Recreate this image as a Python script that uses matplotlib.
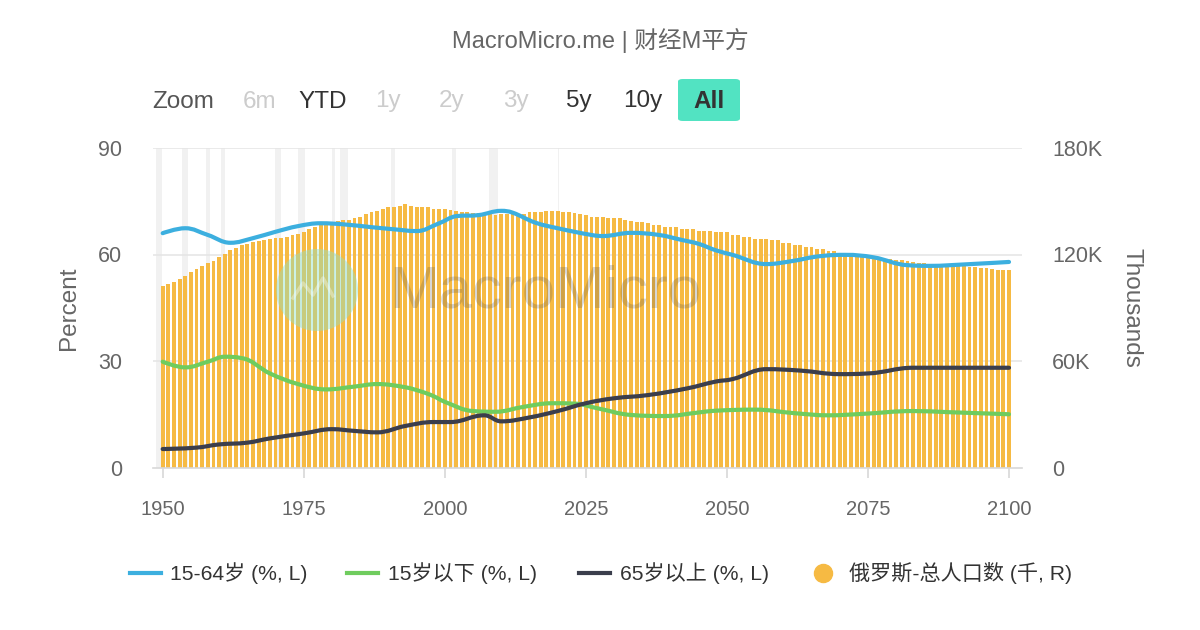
import matplotlib
matplotlib.use("Agg")
import matplotlib.pyplot as plt
from matplotlib.path import Path
from matplotlib.patches import PathPatch, Circle, FancyBboxPatch
from matplotlib.lines import Line2D
from matplotlib.ticker import FuncFormatter

plt.rcParams['font.family'] = ['Liberation Sans', 'Noto Sans CJK SC', 'DejaVu Sans']

# ---------------- data ----------------
pop_years = list(range(1950, 2101))
population = [  # thousands (right axis)
    102300, 103400, 104500, 106000, 107900, 110000, 112000, 113500, 115400, 116600,
    118800, 120300, 122500, 123500, 125200, 125900, 126900, 127800, 128200, 128700,
    129100, 129500, 130000, 131000, 131400, 132900, 134200, 135700, 136400, 137200,
    138100, 138700, 139400, 139600, 140400, 141300, 142800, 143800, 144700, 145800,
    146900, 147000, 147300, 148300, 147100, 147000, 146900, 146900, 145900, 145900,
    145800, 145000, 144700, 144100, 143700, 143600, 143500, 143200, 142600, 142300,
    142800, 142800, 142800, 142600, 142800, 143700, 143700, 143800, 144500, 144700,
    144700, 143700, 143700, 143600, 142800, 142300, 141300, 141300, 141200, 140400,
    140400, 140300, 139400, 139000, 138100, 138100, 137900, 136800, 136800, 135700,
    135700, 135600, 134500, 134500, 134100, 133400, 133400, 133300, 132500, 132500,
    132400, 131200, 131200, 130000, 130000, 128900, 128900, 128800, 128000, 127900,
    126700, 126600, 125500, 125500, 124400, 124300, 123300, 123200, 122100, 122000,
    121000, 120900, 120300, 120200, 120000, 119500, 119400, 118800, 117600, 117500,
    116800, 116700, 116500, 115900, 115400, 115300, 114500, 114500, 114400, 113500,
    113500, 113400, 113400, 113100, 113000, 112200, 112200, 112100, 111100, 111100,
    111000,
]

age1564_years = [1950, 1954, 1958, 1962, 1966, 1970, 1974, 1978, 1982, 1987, 1991, 1995,
                 1999, 2002, 2006, 2010, 2012, 2016, 2020, 2026, 2028, 2033, 2038, 2042,
                 2045, 2048, 2051, 2057, 2061, 2067, 2071, 2076, 2082, 2086, 2092, 2100]
age1564 = [66.0, 67.4, 65.5, 63.3, 64.6, 66.4, 68.0, 68.8, 68.5, 67.7, 67.1, 66.6,
           68.8, 70.8, 71.1, 72.3, 71.8, 69.0, 67.4, 65.5, 65.2, 66.1, 65.5, 64.1,
           63.0, 61.2, 59.9, 57.3, 58.0, 59.6, 59.9, 59.2, 57.0, 56.8, 57.2, 57.9]

under15_years = [1950, 1954, 1958, 1961, 1964, 1969, 1974, 1979, 1984, 1988, 1993, 1996,
                 1998, 2000, 2005, 2009, 2014, 2019, 2023, 2027, 2033, 2039, 2045, 2048,
                 2055, 2062, 2068, 2074, 2083, 2089, 2100]
under15 = [29.8, 28.2, 29.8, 31.2, 30.8, 26.5, 23.5, 22.0, 22.8, 23.5, 22.6, 21.3,
           20.1, 18.5, 15.9, 15.7, 17.1, 18.1, 18.0, 16.7, 14.8, 14.5, 15.5, 16.0,
           16.3, 15.3, 14.7, 15.1, 15.9, 15.6, 15.0]

over65_years = [1950, 1956, 1960, 1965, 1969, 1975, 1980, 1984, 1988, 1993, 1998, 2001,
                2007, 2010, 2015, 2020, 2025, 2030, 2036, 2043, 2048, 2051, 2057, 2063,
                2070, 2075, 2083, 2092, 2100]
over65 = [5.2, 5.6, 6.5, 7.0, 8.2, 9.6, 10.8, 10.3, 9.9, 11.7, 12.8, 12.8,
          14.7, 13.0, 14.1, 15.9, 18.1, 19.5, 20.4, 22.3, 24.2, 24.9, 27.7, 27.3,
          26.3, 26.5, 28.1, 28.1, 28.1]

shade_ranges = [(1948.9, 1949.8), (1953.5, 1954.4), (1957.6, 1958.3), (1960.3, 1961.1),
                (1969.9, 1970.9), (1973.9, 1975.2), (1980.0, 1980.5), (1981.5, 1982.9),
                (1990.5, 1991.2), (2001.2, 2001.9), (2007.9, 2009.5), (2020.1, 2020.3)]

x_ticks = [1950, 1975, 2000, 2025, 2050, 2075, 2100]
left_ticks = [0, 30, 60, 90]
right_ticks = [0, 60000, 120000, 180000]

legend_labels = ['15-64岁 (%, L)', '15岁以下 (%, L)', '65岁以上 (%, L)', '俄罗斯-总人口数 (千, R)']
zoom_buttons = ['6m', 'YTD', '1y', '2y', '3y', '5y', '10y']

C_BLUE = '#3cafdf'
C_GREEN = '#6fcc5e'
C_DARK = '#3b3e4c'
C_BAR = '#f6ba43'
C_TEXT = '#666666'


def spline_path(xs, ys, sm=1.5):
    n = len(xs)
    d = sm + 1
    lc = [None] * n
    rc = [None] * n
    for i in range(n):
        px, py = xs[i], ys[i]
        if i == 0 or i == n - 1:
            lc[i] = (px, py)
            rc[i] = (px, py)
            continue
        lx, ly = xs[i - 1], ys[i - 1]
        nx, ny = xs[i + 1], ys[i + 1]
        lcx = (sm * px + lx) / d
        lcy = (sm * py + ly) / d
        rcx = (sm * px + nx) / d
        rcy = (sm * py + ny) / d
        if rcx != lcx:
            corr = ((rcy - lcy) * (rcx - px)) / (rcx - lcx) + py - rcy
            lcy += corr
            rcy += corr
        if lcy > max(ly, py):
            lcy = max(ly, py); rcy = 2 * py - lcy
        elif lcy < min(ly, py):
            lcy = min(ly, py); rcy = 2 * py - lcy
        if rcy > max(py, ny):
            rcy = max(py, ny); lcy = 2 * py - rcy
        elif rcy < min(py, ny):
            rcy = min(py, ny); lcy = 2 * py - rcy
        lc[i] = (lcx, lcy)
        rc[i] = (rcx, rcy)
    verts = [(xs[0], ys[0])]
    codes = [Path.MOVETO]
    for i in range(1, n):
        verts += [rc[i - 1], lc[i], (xs[i], ys[i])]
        codes += [Path.CURVE4] * 3
    return Path(verts, codes)


W, H = 1200, 630
fig = plt.figure(figsize=(12, 6.3), dpi=100)
fig.patch.set_facecolor('white')

ax_l, ax_r, ax_t, ax_b = 152.7, 1021.7, 148.0, 467.5
rect = [ax_l / W, 1 - ax_b / H, (ax_r - ax_l) / W, (ax_b - ax_t) / H]
ax = fig.add_axes(rect)
ax2 = ax.twinx()
ax.set_zorder(ax2.get_zorder() + 1)
ax.patch.set_visible(False)
ax2.set_facecolor('white')

xmin, xmax = 1948.23, 2102.25
ax.set_xlim(xmin, xmax)
ax2.set_xlim(xmin, xmax)
ax.set_ylim(0, 90)
ax2.set_ylim(0, 180000)

# shading
for a, b in shade_ranges:
    ax2.axvspan(a, b, color='#f1f1f1', lw=0, zorder=0)
# grid
for v in right_ticks[1:]:
    ax2.axhline(v, color='#e6e6e6', lw=1.2, zorder=0.5)

ax2.bar(pop_years, population, width=0.68, color=C_BAR, zorder=1, linewidth=0)

# watermark
wm = Circle((3.17, 6.3 - 2.90), 0.41, transform=fig.dpi_scale_trans,
            facecolor='#8fe0c8', alpha=0.45, edgecolor='none', zorder=3)
fig.add_artist(wm)
icon_x = [2.93, 3.03, 3.13, 3.23, 3.33]
icon_y = [6.3 - 2.98, 6.3 - 2.83, 6.3 - 2.95, 6.3 - 2.78, 6.3 - 2.96]
fig.add_artist(Line2D(icon_x, icon_y, transform=fig.dpi_scale_trans,
                      color='white', alpha=0.35, lw=2.5, zorder=3))
fig.text(545 / W, 1 - 292 / H, 'MacroMicro', fontsize=43, color='#555555',
         alpha=0.24, ha='center', va='center', zorder=3,
         family=['Liberation Sans'])

# lines
for xs, ys, c in [(age1564_years, age1564, C_BLUE),
                  (under15_years, under15, C_GREEN),
                  (over65_years, over65, C_DARK)]:
    p = spline_path(xs, ys)
    ax.add_patch(PathPatch(p, fill=False, edgecolor=c, lw=3.0,
                           capstyle='round', joinstyle='round', zorder=5))

# axes styling
for a_ in (ax, ax2):
    for s in a_.spines.values():
        s.set_visible(False)
ax.spines['bottom'].set_visible(True)
ax.spines['bottom'].set_color('#d8d8d8')
ax.spines['bottom'].set_linewidth(1.2)

ax.set_xticks(x_ticks)
ax.set_xticklabels([str(t) for t in x_ticks])
ax.tick_params(axis='x', length=7.5, width=1.2, color='#d8d8d8',
               labelsize=14.5, labelcolor=C_TEXT, pad=16)
ax.set_yticks(left_ticks)
ax.tick_params(axis='y', length=0, labelsize=15.5, labelcolor=C_TEXT, pad=22)
ax2.set_yticks(right_ticks)
ax2.yaxis.set_major_formatter(FuncFormatter(lambda v, p: '0' if v == 0 else f'{int(v / 1000)}K'))
ax2.tick_params(axis='y', length=0, labelsize=15.5, labelcolor=C_TEXT, pad=22)
ax2.tick_params(axis='x', length=0)

ax.set_ylabel('Percent', fontsize=17.5, color=C_TEXT)
ax2.set_ylabel('Thousands', fontsize=17.5, color=C_TEXT, rotation=270, va='center')
ax.yaxis.label.set_va('center')
ax.yaxis.set_label_coords((69 - ax_l) / (ax_r - ax_l), 0.5)
ax2.yaxis.set_label_coords((1131 - ax_l) / (ax_r - ax_l), 0.5)

# title
fig.text(0.5, 1 - 40 / H, 'MacroMicro.me | 财经M平方', fontsize=17, color=C_TEXT,
         ha='center', va='center')

# zoom buttons
box = FancyBboxPatch((678 / W, 1 - 121 / H), (740 - 678) / W, (121 - 79) / H,
                     boxstyle='round,pad=0,rounding_size=0.004',
                     transform=fig.transFigure, facecolor='#52e3c2', edgecolor='none')
fig.add_artist(box)
by = 1 - 101.5 / H
fig.text(152 / W, by, 'Zoom', fontsize=17.5, color='#555555', ha='left', va='center')
btn_x = [260, 323, 388, 452, 516, 579, 643]
btn_colors = ['#cccccc', '#333333', '#cccccc', '#cccccc', '#cccccc', '#333333', '#333333']
for lbl, xx, cc in zip(zoom_buttons, btn_x, btn_colors):
    fig.text(xx / W, by, lbl, fontsize=17.5, color=cc, ha='center', va='center')
fig.text(709 / W, by, 'All', fontsize=17.5, color='#333333', ha='center',
         va='center', fontweight='bold')

# legend
ly = 1 - 573 / H
leg_colors = [C_BLUE, C_GREEN, C_DARK]
line_x0 = [130, 347, 579]
text_x = [170, 388, 620]
for i in range(3):
    fig.add_artist(Line2D([line_x0[i] / W, (line_x0[i] + 31) / W], [ly, ly],
                          transform=fig.transFigure, color=leg_colors[i], lw=3.0))
    fig.text(text_x[i] / W, ly, legend_labels[i], fontsize=15.2, color='#333333',
             ha='left', va='center')
fig.add_artist(Line2D([823 / W], [ly], transform=fig.transFigure, marker='o',
                      markersize=13, color=C_BAR, lw=0))
fig.text(849 / W, ly, legend_labels[3], fontsize=15.2, color='#333333', ha='left', va='center')

fig.savefig('out.png', dpi=100)
